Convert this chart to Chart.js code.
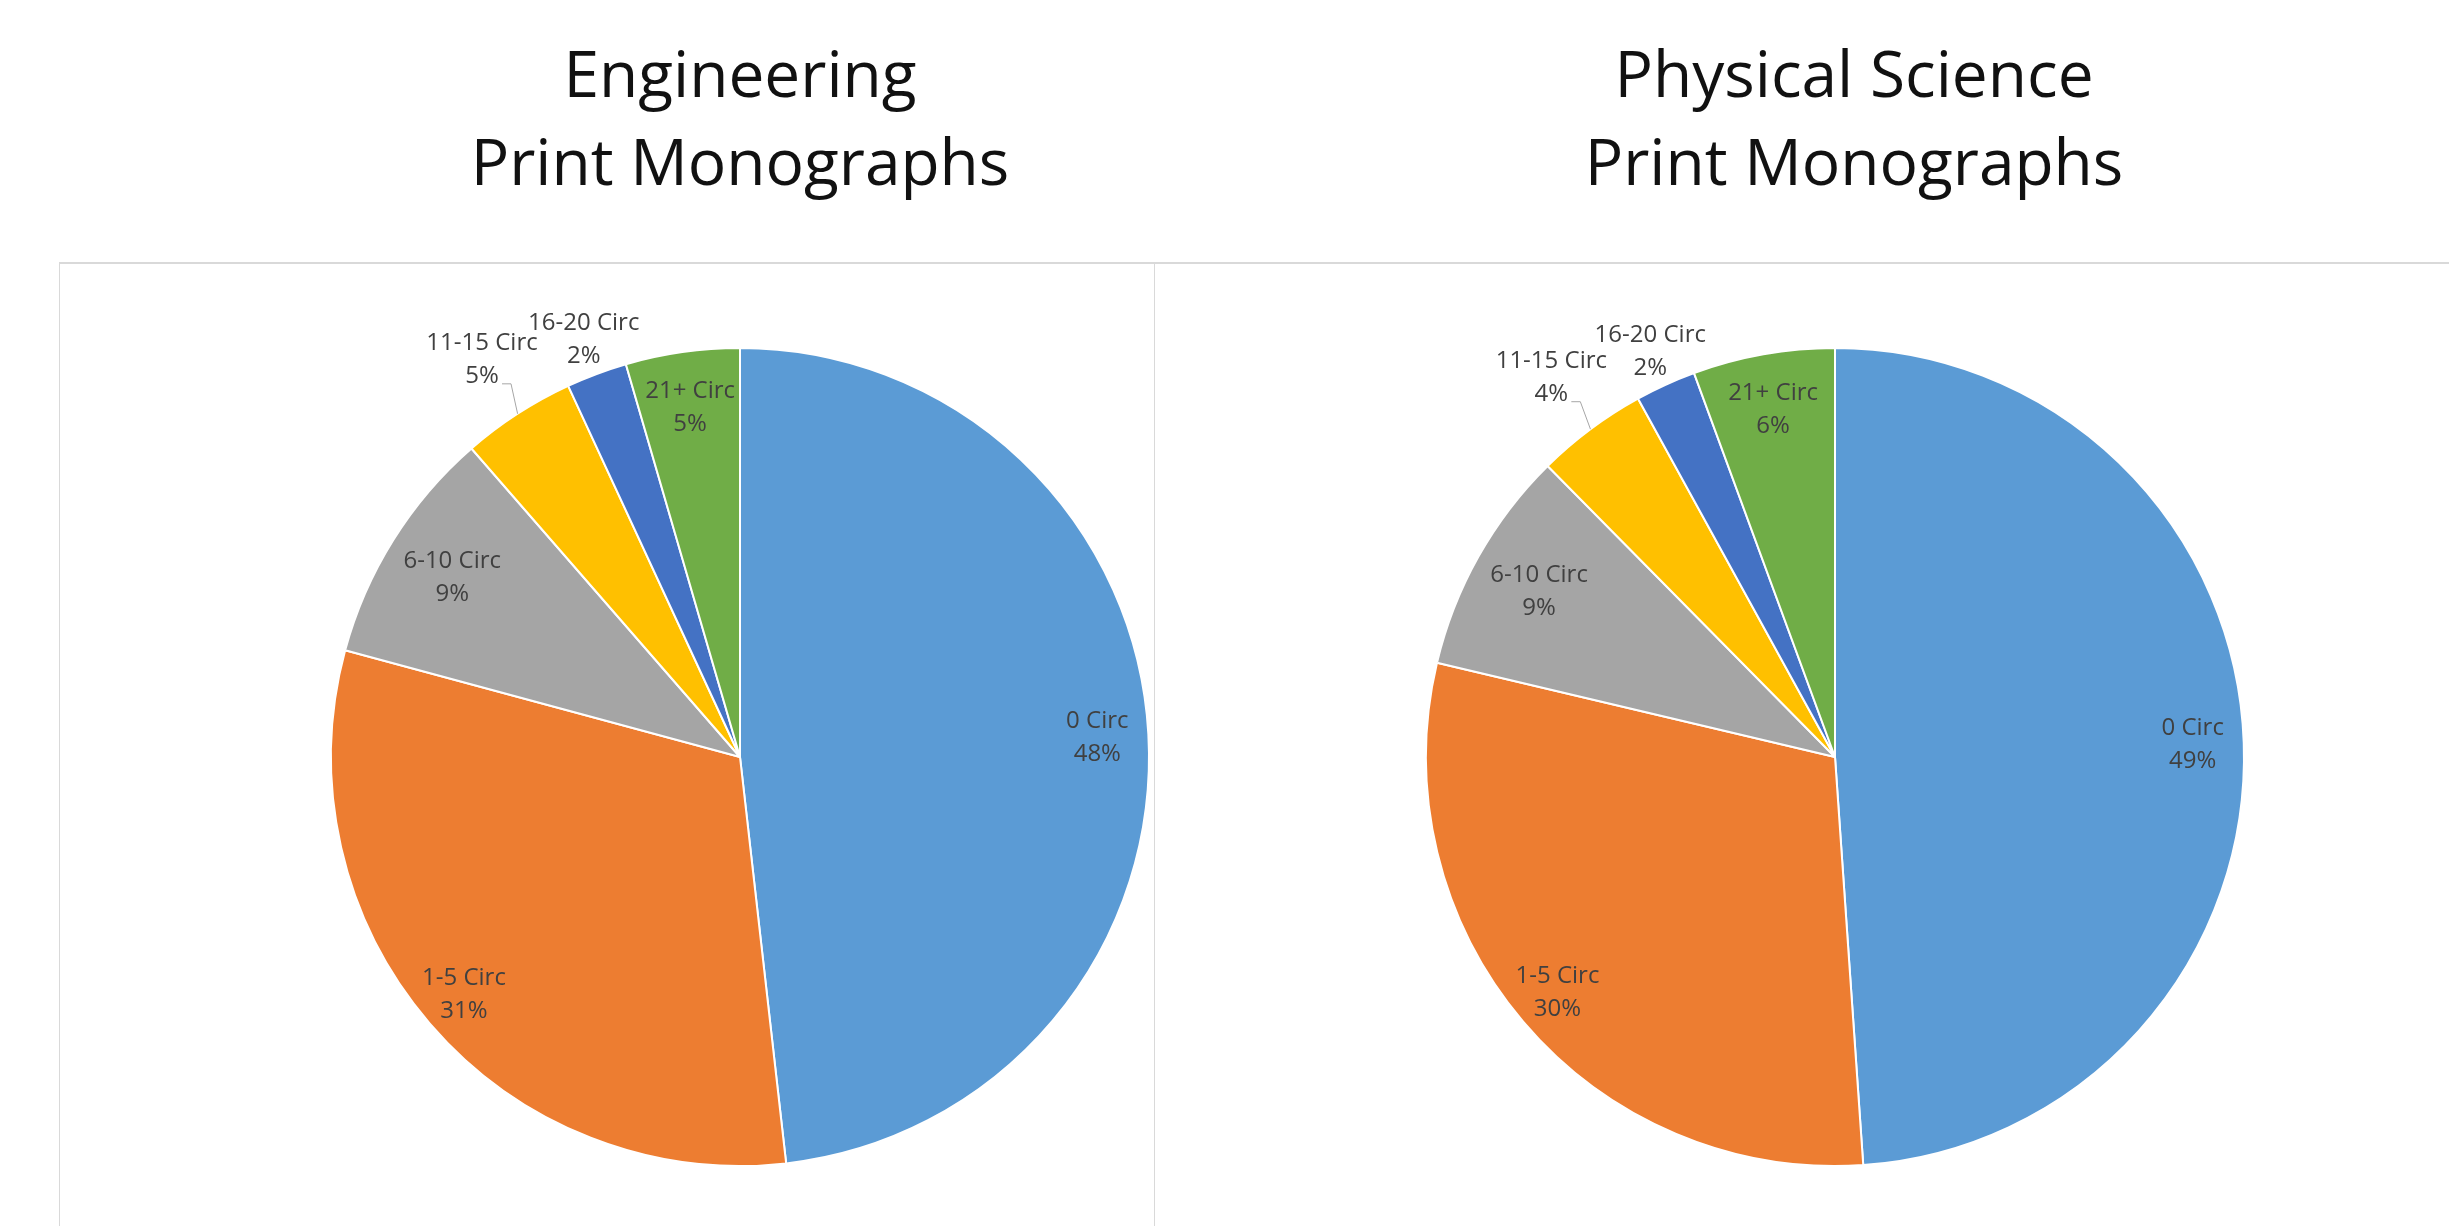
<!DOCTYPE html>
<html>
<head>
<meta charset="utf-8">
<script src="https://cdn.jsdelivr.net/npm/chart.js"></script>
<style>
  body { margin: 0; background: #fff; width: 2449px; height: 1226px; overflow: hidden; position: relative; font-family: "Open Sans", sans-serif; }
  .title { position: absolute; top: 29px; width: 1000px; text-align: center; font-size: 64px; line-height: 88px; color: #111; }
  .frame { position: absolute; left: 59px; top: 262px; width: 2500px; height: 1000px; border-top: 2px solid #d9d9d9; border-left: 1px solid #d9d9d9; }
  .divider { position: absolute; left: 1154px; top: 263px; width: 1px; height: 1000px; background: #d9d9d9; }
  canvas { position: absolute; top: 263px; }
</style>
</head>
<body>
<div class="frame"></div>
<div class="divider"></div>
<div class="title" id="title1" style="left:240px"></div>
<div class="title" id="title2" style="left:1354px"></div>
<canvas id="engCanvas" width="900" height="963" style="left:290px"></canvas>
<canvas id="physCanvas" width="900" height="963" style="left:1385px"></canvas>
<script>
// categories and values (percent of monographs)
const categories = ['0 Circ', '1-5 Circ', '6-10 Circ', '11-15 Circ', '16-20 Circ', '21+ Circ'];
const engineeringValues = [48.2, 31.0, 9.4, 4.5, 2.4, 4.5];
const physicalValues = [48.9, 29.8, 8.9, 4.4, 2.4, 5.6];
const engineeringTitle = ['Engineering', 'Print Monographs'];
const physicalTitle = ['Physical Science', 'Print Monographs'];

const sliceColors = ['#5B9BD5', '#ED7D31', '#A5A5A5', '#FFC000', '#4472C4', '#70AD47'];
// where each label sits, as a fraction of the radius along the slice middle
const labelRadius = [0.875, 0.89, 0.83, 1.16, 1.09, 0.865];
const leaderLine = [false, false, false, true, false, false];

document.getElementById('title1').innerHTML = engineeringTitle.join('<br>');
document.getElementById('title2').innerHTML = physicalTitle.join('<br>');

const pieLabels = {
    id: 'pieLabels',
    afterDatasetsDraw(chart) {
        const ctx = chart.ctx;
        const meta = chart.getDatasetMeta(0);
        const values = chart.data.datasets[0].data;
        const total = values.reduce((a, b) => a + b, 0);
        ctx.save();
        ctx.font = '24px "Open Sans"';
        ctx.fillStyle = '#404040';
        ctx.textAlign = 'center';
        ctx.textBaseline = 'middle';
        meta.data.forEach(function (arc, i) {
            const p = arc.getProps(['x', 'y', 'startAngle', 'endAngle', 'outerRadius'], true);
            const mid = (p.startAngle + p.endAngle) / 2;
            const lx = p.x + Math.cos(mid) * p.outerRadius * labelRadius[i];
            const ly = p.y + Math.sin(mid) * p.outerRadius * labelRadius[i];
            ctx.fillText(chart.data.labels[i], lx, ly - 16);
            ctx.fillText(Math.round(values[i] * 100 / total + 1e-9) + '%', lx, ly + 17);
            if (leaderLine[i]) {
                ctx.strokeStyle = '#a6a6a6';
                ctx.lineWidth = 1;
                ctx.beginPath();
                ctx.moveTo(lx + 20, ly + 25);
                ctx.lineTo(lx + 29, ly + 25);
                ctx.lineTo(p.x + Math.cos(mid) * p.outerRadius, p.y + Math.sin(mid) * p.outerRadius);
                ctx.stroke();
            }
        });
        ctx.restore();
    }
};

function makePie(canvasId, values) {
    const config = {
        type: 'pie',
        data: {
            labels: categories,
            datasets: [{
                data: values,
                backgroundColor: sliceColors,
                borderColor: '#ffffff',
                borderWidth: 2
            }]
        },
        options: {
            responsive: false,
            animation: false,
            devicePixelRatio: 1,
            layout: { padding: { top: 84, bottom: 59, left: 0, right: 0 } },
            plugins: {
                legend: { display: false },
                tooltip: { enabled: false }
            }
        },
        plugins: [pieLabels]
    };
    var ctx = document.getElementById(canvasId);
    return new Chart(ctx, config);
}

makePie('engCanvas', engineeringValues);
makePie('physCanvas', physicalValues);
</script>
</body>
</html>
